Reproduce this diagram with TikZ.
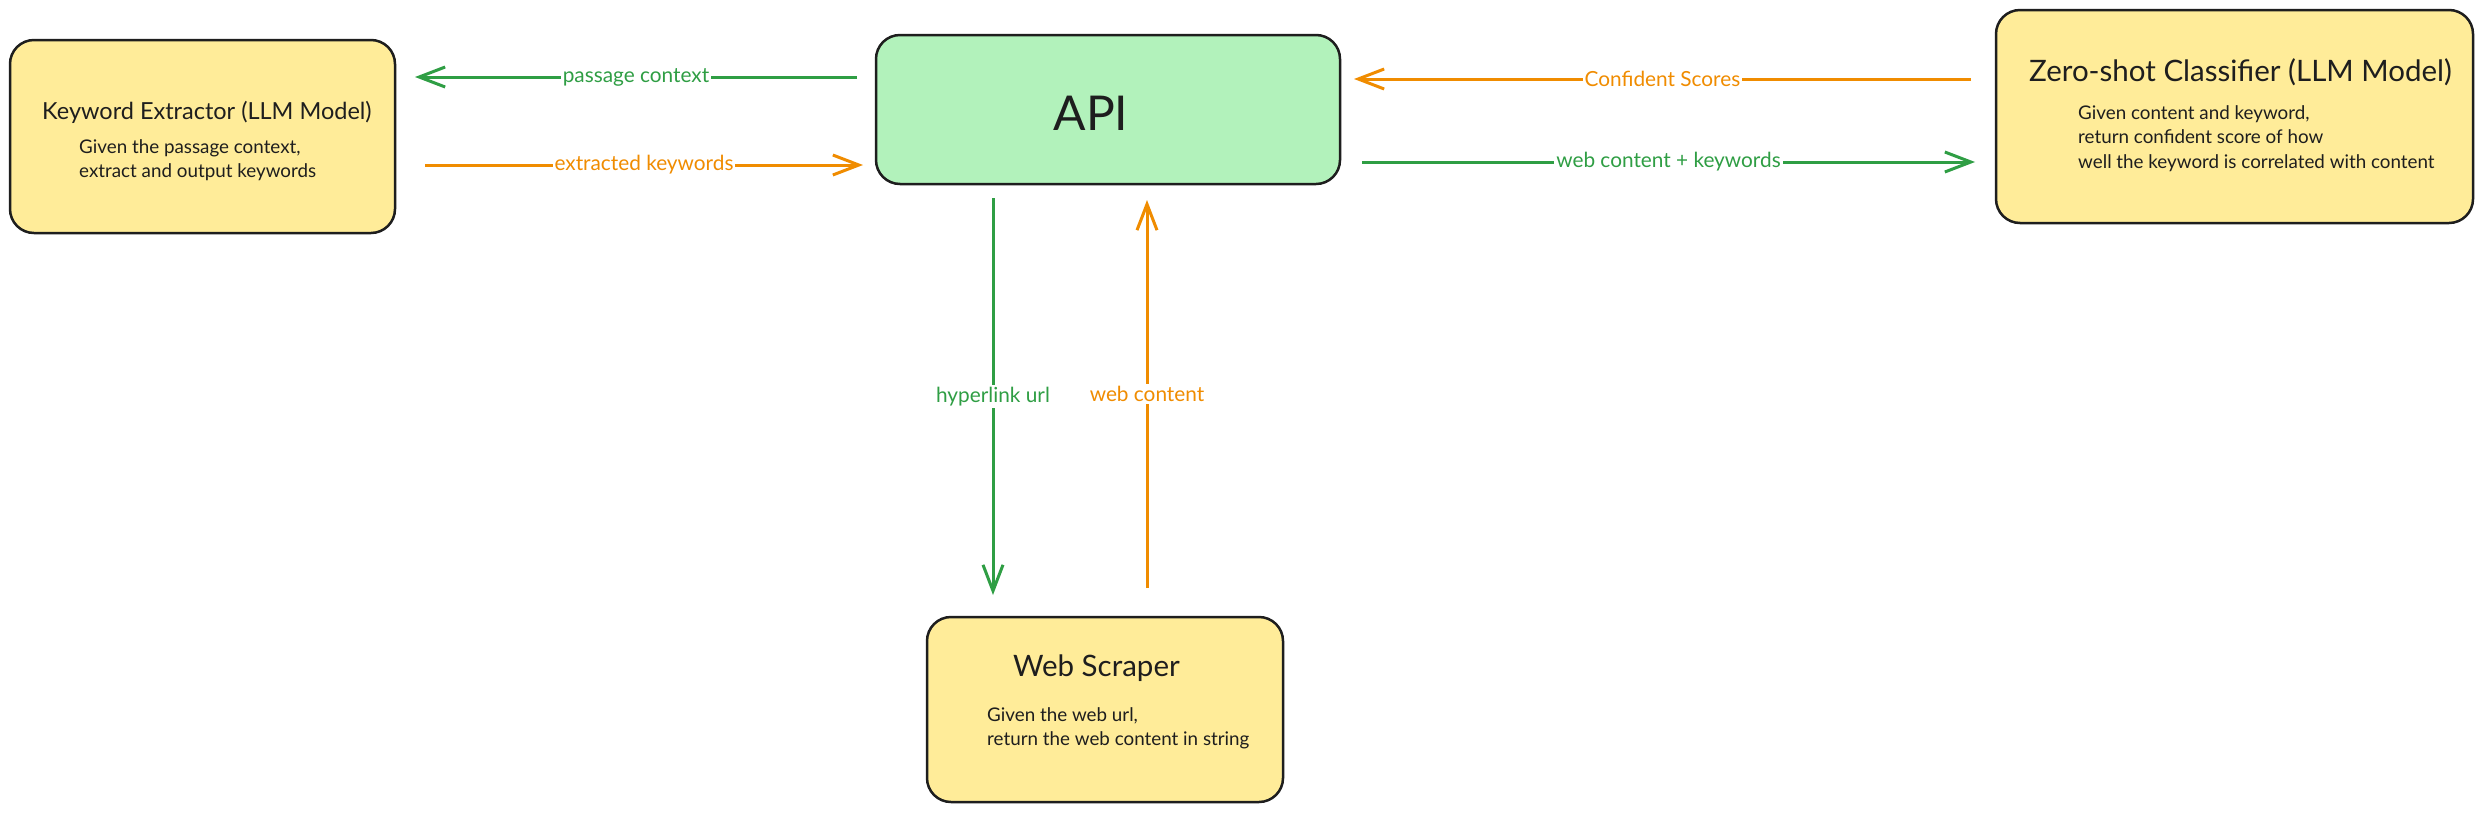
\documentclass[tikz,border=0pt]{standalone}
\usepackage{fontspec}
\setmainfont{Lato}
\usetikzlibrary{arrows.meta}
\definecolor{exgreen}{HTML}{2F9E44}
\definecolor{exorange}{HTML}{F08C00}
\definecolor{exyellow}{HTML}{FFEC99}
\definecolor{exmint}{HTML}{B2F2BB}
\definecolor{exink}{HTML}{1E1E1E}
\begin{document}
\begin{tikzpicture}[x=1pt,y=-1pt,
  box/.style={draw=exink, line width=2.5pt, rounded corners=24pt, inner sep=0pt},
  ybox/.style={box, fill=exyellow},
  gbox/.style={box, fill=exmint},
  stitle/.style={font=\fontsize{23.5}{27}\selectfont, text=exink, anchor=west, inner sep=0pt},
  btitle/.style={font=\fontsize{29.5}{33}\selectfont, text=exink, anchor=west, inner sep=0pt},
  body/.style={font=\fontsize{18.8}{24.3}\selectfont, text=exink, anchor=west, align=left, inner sep=0pt},
  link/.style={line width=3pt, -{Straight Barb[length=26pt,width=20pt,line width=3pt]}},
  lab/.style={fill=white, inner sep=2pt, font=\fontsize{20.8}{24}\selectfont}
]
\useasboundingbox[fill=white] (0,0) rectangle (2483,812);

% boxes
\node[ybox, minimum width=385pt, minimum height=193pt] (ke) at (202.5,136.5) {};
\node[gbox, minimum width=464pt, minimum height=149pt] (api) at (1108,109.5) {};
\node[ybox, minimum width=477pt, minimum height=213pt] (zs) at (2234.5,116.5) {};
\node[ybox, minimum width=356pt, minimum height=185pt] (ws) at (1105,709.5) {};

% texts
\node[stitle] (ket) at (42,112) {Keyword Extractor (LLM Model)};
\node[body] (keb) at (79,160) {Given the passage context,\\extract and output keywords};
\node[font=\fontsize{48}{52}\selectfont, text=exink, inner sep=0pt] (apit) at (1091,113) {API};
\node[btitle] (zst) at (2029,72) {Zero-shot Classifier (LLM Model)};
\node[body] (zsb) at (2078,138.5) {Given content and keyword,\\return confident score of how\\well the keyword is correlated with content};
\node[btitle] (wst) at (1013,668) {Web Scraper};
\node[body] (wsb) at (987,728.5) {Given the web url,\\return the web content in string};

% arrow end points
\coordinate (pcA) at (857,77);   \coordinate (pcB) at (415,77);
\coordinate (ekA) at (425,165);  \coordinate (ekB) at (863,165);
\coordinate (csA) at (1971,79);  \coordinate (csB) at (1354,79);
\coordinate (wkA) at (1362,162); \coordinate (wkB) at (1975,162);
\coordinate (huA) at (993,198);  \coordinate (huB) at (993,595);
\coordinate (wcA) at (1147,588); \coordinate (wcB) at (1147,200);

\draw[link, exgreen] (pcA) -- node[lab, text=exgreen] (lpc) {passage context} (pcB);
\draw[link, exorange] (ekA) -- node[lab, text=exorange] (lek) {extracted keywords} (ekB);
\draw[link, exorange] (csA) -- node[lab, text=exorange] (lcs) {Confident Scores} (csB);
\draw[link, exgreen] (wkA) -- node[lab, text=exgreen] (lwk) {web content + keywords} (wkB);
\draw[link, exgreen] (huA) -- node[lab, text=exgreen] (lhu) {hyperlink url} (huB);
\draw[link, exorange] (wcA) -- node[lab, text=exorange] (lwc) {web content} (wcB);
\end{tikzpicture}
\end{document}
